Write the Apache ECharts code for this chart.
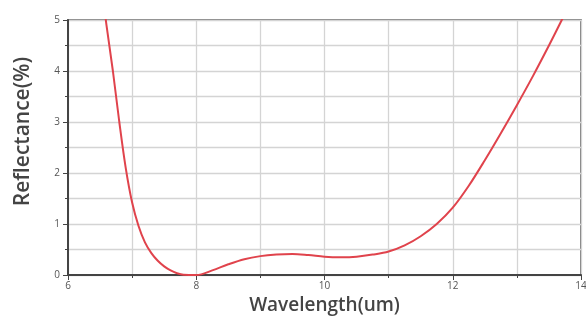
<!DOCTYPE html>
<html>
<head>
<meta charset="utf-8">
<script src="https://cdn.jsdelivr.net/npm/echarts@6/dist/echarts.min.js"></script>
<style>
html,body{margin:0;padding:0;background:#fff;}
#chart{width:586px;height:317px;}
</style>
</head>
<body>
<div id="chart"></div>
<script>
var wavelength = [6.55, 6.6, 6.7, 6.8, 6.9, 7.0, 7.1, 7.2, 7.3, 7.4, 7.5, 7.6, 7.7, 7.8, 8.0, 8.25, 8.5, 8.75, 9.0, 9.25, 9.5, 9.75, 10.0, 10.25, 10.5, 10.75, 11.0, 11.25, 11.5, 11.75, 12.0, 12.25, 12.5, 12.75, 13.0, 13.25, 13.5, 13.7, 13.8];
var reflectance = [5.4, 4.9, 4.0, 3.0, 2.1, 1.42, 0.96, 0.64, 0.43, 0.28, 0.17, 0.09, 0.035, 0.005, 0.0, 0.09, 0.21, 0.31, 0.37, 0.40, 0.41, 0.39, 0.36, 0.35, 0.36, 0.40, 0.46, 0.58, 0.76, 1.0, 1.32, 1.75, 2.25, 2.78, 3.33, 3.9, 4.5, 5.0, 5.26];
var xAxisName = 'Wavelength(um)';
var yAxisName = 'Reflectance(%)';

var points = wavelength.map(function (w, i) { return [w, reflectance[i]]; });

var chart = echarts.init(document.getElementById('chart'));
chart.setOption({
  animation: false,
  backgroundColor: '#fff',
  grid: {left: 68, right: 5, top: 20, bottom: 42, show: true, borderColor: '#555', borderWidth: 1.5, containLabel: false, outerBoundsMode: 'none'},
  xAxis: {
    type: 'value', min: 6, max: 14, interval: 2,
    name: xAxisName, nameLocation: 'middle', nameGap: 20,
    nameTextStyle: {fontFamily: 'Open Sans', fontSize: 19, fontWeight: 600, color: '#444'},
    axisLine: {show: true, lineStyle: {color: '#444', width: 2}},
    axisTick: {show: true, length: 5, lineStyle: {color: '#444'}},
    minorTick: {show: true, splitNumber: 2, length: 3, lineStyle: {color: '#444'}},
    axisLabel: {fontFamily: 'Open Sans', fontSize: 10, color: '#555', margin: 6},
    splitLine: {show: true, lineStyle: {color: '#d4d4d4', width: 1.3}},
    minorSplitLine: {show: true, lineStyle: {color: '#d4d4d4', width: 1.3}}
  },
  yAxis: {
    type: 'value', min: 0, max: 5, interval: 1,
    name: yAxisName, nameLocation: 'middle', nameGap: 34,
    nameTextStyle: {fontFamily: 'Open Sans', fontSize: 21, fontWeight: 600, color: '#444', padding: [0, 0, 0, 32]},
    axisLine: {show: true, lineStyle: {color: '#444', width: 2}},
    axisTick: {show: true, length: 5, lineStyle: {color: '#444'}},
    minorTick: {show: true, splitNumber: 2, length: 3, lineStyle: {color: '#444'}},
    axisLabel: {fontFamily: 'Open Sans', fontSize: 10, color: '#555', margin: 8},
    splitLine: {show: true, lineStyle: {color: '#d4d4d4', width: 1.3}},
    minorSplitLine: {show: true, lineStyle: {color: '#d4d4d4', width: 1.3}}
  },
  series: [{
    type: 'line',
    data: points,
    smooth: 0.35,
    showSymbol: false,
    clip: true,
    lineStyle: {color: '#e0434c', width: 2}
  }]
});
</script>
</body>
</html>
